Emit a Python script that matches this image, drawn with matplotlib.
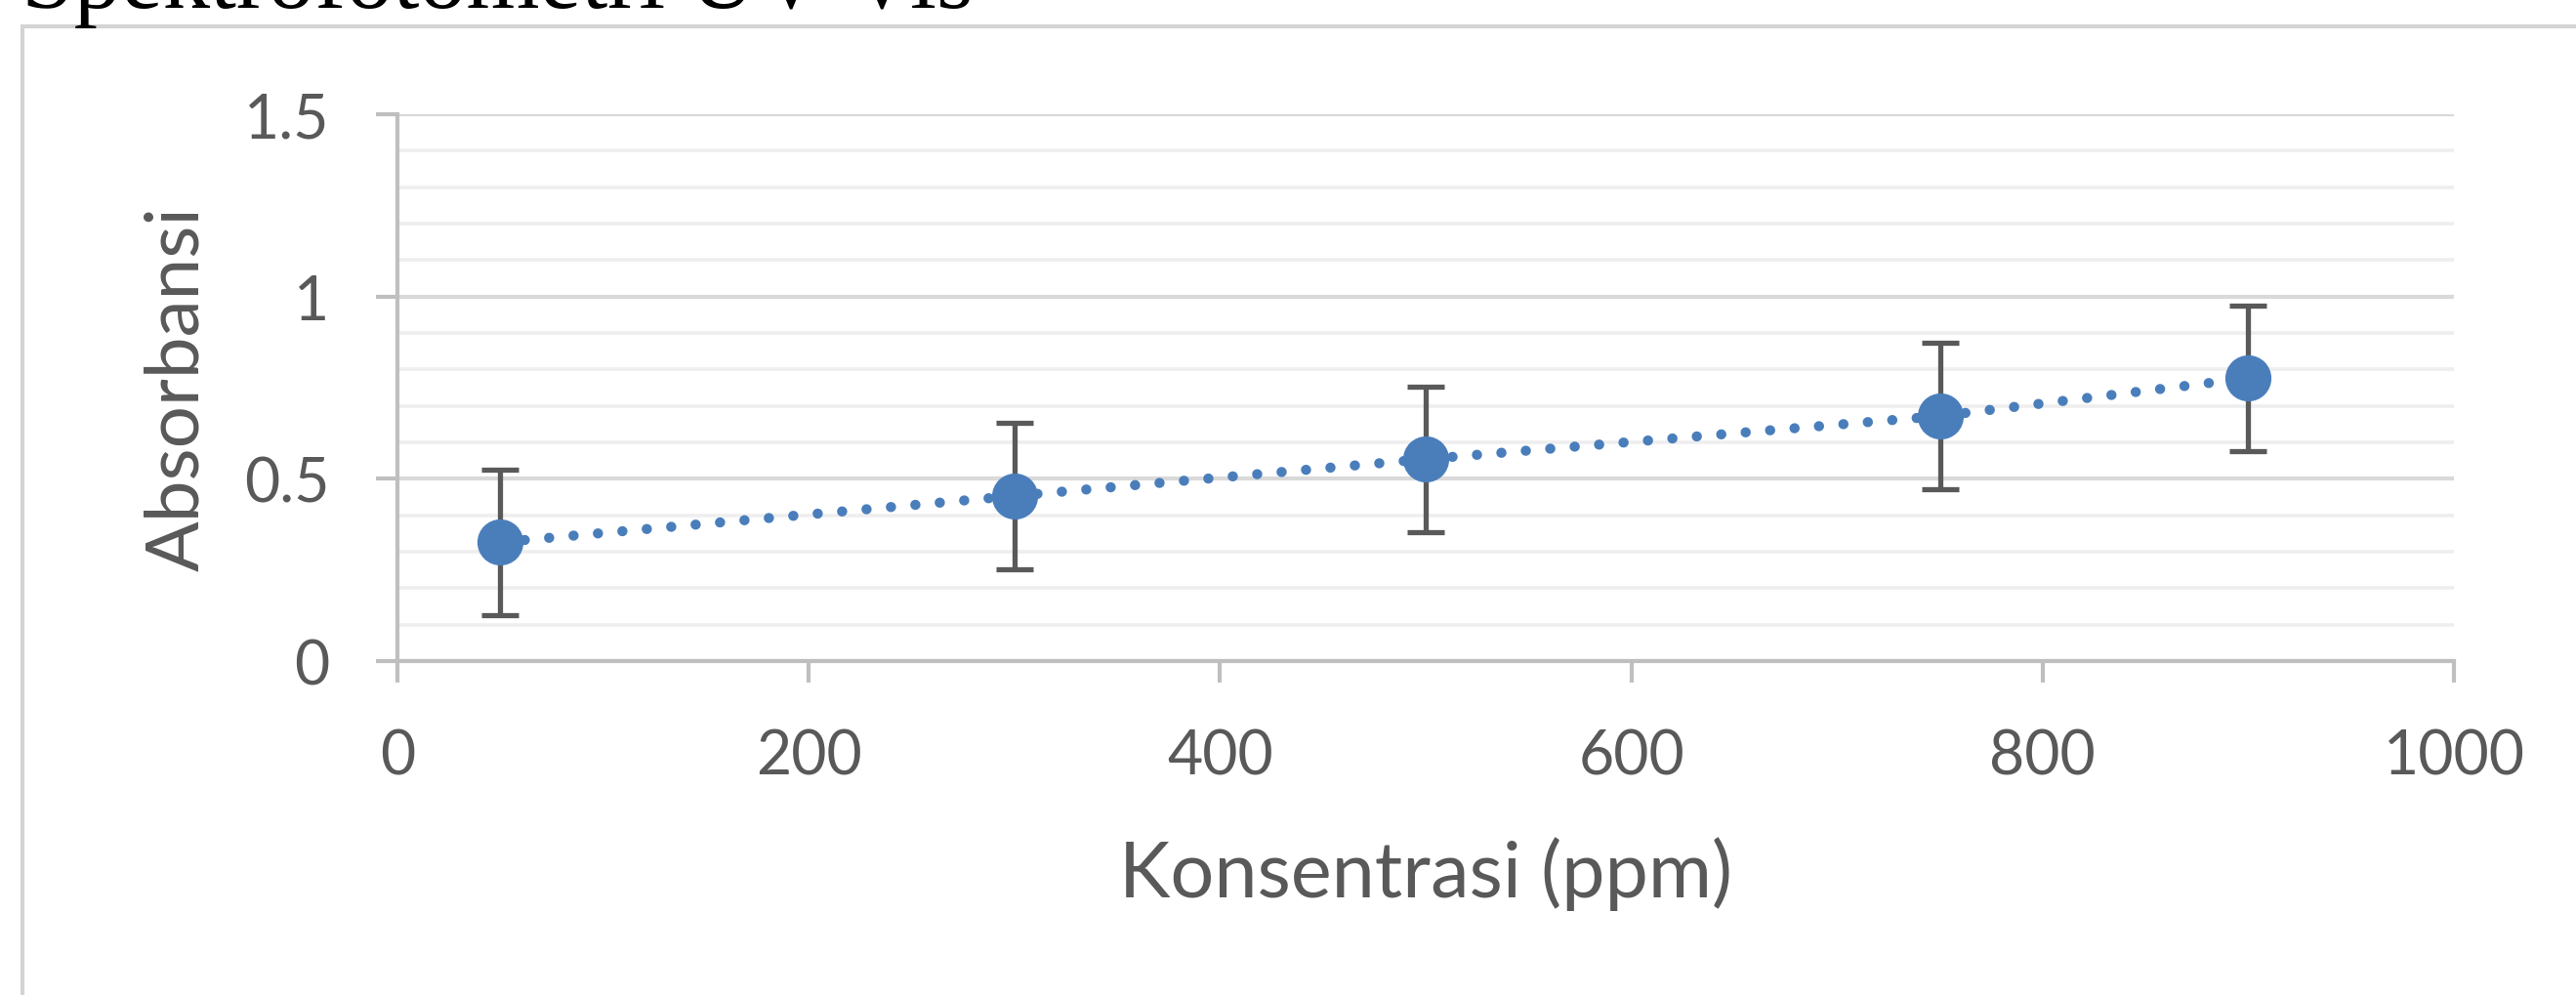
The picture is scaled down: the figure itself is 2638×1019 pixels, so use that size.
import matplotlib

matplotlib.use("Agg")
import matplotlib.pyplot as plt
from matplotlib.patches import Rectangle
from matplotlib.ticker import MultipleLocator

plt.rcParams["font.family"] = ["Lato", "DejaVu Sans"]

# data
konsentrasi = [50, 300, 500, 750, 900]
absorbansi = [0.326, 0.453, 0.554, 0.672, 0.776]
error = [0.2, 0.2, 0.2, 0.2, 0.2]

title_text = "Spektrofotometri UV-Vis"
x_label = "Konsentrasi (ppm)"
y_label = "Absorbansi"
x_ticks = [0, 200, 400, 600, 800, 1000]
y_ticks = [0, 0.5, 1, 1.5]
y_tick_labels = ["0", "0.5", "1", "1.5"]

W, H = 2638, 1020
blue = "#4a7ebb"
text_gray = "#595959"
axis_gray = "#bfbfbf"

fig = plt.figure(figsize=(W / 100, H / 100), dpi=100)
fig.patch.set_facecolor("white")

# chart frame (only left and top edges fall inside the picture)
fig.patches.append(
    Rectangle((23 / W, -0.2), 1.2, 0.2 + (H - 28) / H, transform=fig.transFigure,
              facecolor="none", edgecolor="#d4d4d4", linewidth=3.0)
)

# caption above the chart, cut off by the top edge as in the source
fig.text(22 / W, 1 - 8 / H, title_text, family=["Liberation Serif", "DejaVu Serif"],
         fontsize=69.5, color="black", ha="left", va="baseline")

ax = fig.add_axes([407 / W, (H - 678) / H, (2513 - 407) / W, (678 - 118) / H])
ax.set_xlim(0, 1000)
ax.set_ylim(0, 1.5)

ax.yaxis.set_minor_locator(MultipleLocator(0.1))
ax.grid(which="major", axis="y", color="#d9d9d9", linewidth=3.0, zorder=0)
ax.grid(which="minor", axis="y", color="#eeeeee", linewidth=2.6, zorder=0)
ax.set_axisbelow(True)

for side in ["top", "right"]:
    ax.spines[side].set_visible(False)
for side in ["left", "bottom"]:
    ax.spines[side].set_color(axis_gray)
    ax.spines[side].set_linewidth(3.0)

ax.set_xticks(x_ticks)
ax.set_xticklabels([str(t) for t in x_ticks])
ax.set_yticks(y_ticks)
ax.set_yticklabels(y_tick_labels)
ax.tick_params(which="major", length=16, width=3.0, color=axis_gray,
               labelcolor=text_gray, labelsize=45)
ax.tick_params(axis="x", pad=33)
ax.tick_params(axis="y", pad=34)
ax.tick_params(which="minor", length=0)

ax.plot(konsentrasi, absorbansi, color=blue, linewidth=7.5,
        linestyle=(0, (0.01, 2.4)), dash_capstyle="round", zorder=3)
ax.errorbar(konsentrasi, absorbansi, yerr=error, fmt="none", ecolor=text_gray,
            elinewidth=3.8, capsize=14, capthick=3.8, zorder=4)
ax.plot(konsentrasi, absorbansi, linestyle="none", marker="o", markersize=34,
        markerfacecolor=blue, markeredgecolor=blue, markeredgewidth=0, zorder=5)

ax.set_xlabel(x_label, fontsize=57, color=text_gray, labelpad=38)
ax.set_ylabel(y_label, fontsize=55, color=text_gray, labelpad=24)

fig.savefig("out.png", dpi=100)
